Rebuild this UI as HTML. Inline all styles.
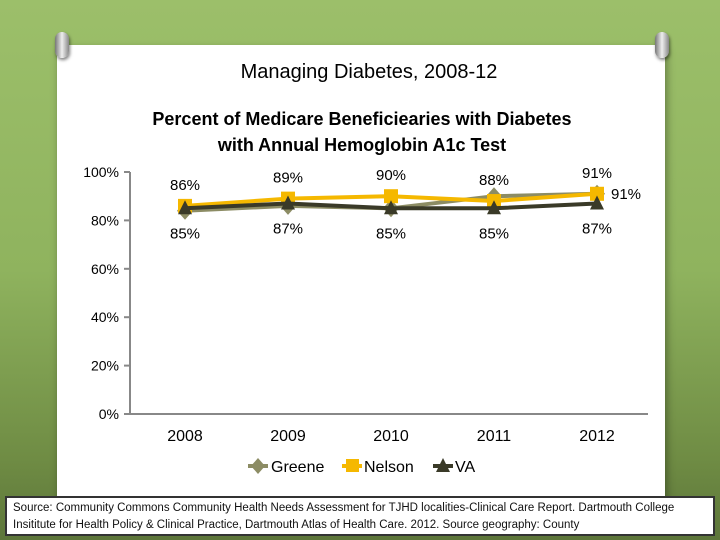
<!DOCTYPE html>
<html><head><meta charset="utf-8"><style>
html,body{margin:0;padding:0}
body{width:720px;height:540px;overflow:hidden;position:relative;font-family:"Liberation Sans",sans-serif;
background:linear-gradient(180deg,#9cbf6a 0%,#8fb35e 50%,#6f8c44 85%,#5d763a 100%)}
#paper{position:absolute;left:57px;top:45px;width:608px;height:452px;background:#fff;box-shadow:2px 4px 8px rgba(0,0,0,.35)}
.pin{position:absolute;width:14px;height:26px;border-radius:7px;background:linear-gradient(90deg,#777,#eee,#888);box-shadow:1px 2px 3px rgba(0,0,0,.5)}
#src{position:absolute;left:5px;top:496px;width:706px;height:38px;background:#fff;border:2px solid #333;font-size:11.5px;line-height:17px;padding:2px 0 0 6px;box-sizing:border-box;width:710px;height:40px;color:#111}
</style></head><body>
<div id="paper"></div>
<div class="pin" style="left:55px;top:32px"></div>
<div class="pin" style="left:655px;top:32px"></div>
<svg width="720" height="540" style="position:absolute;left:0;top:0" id="chart">
<text x="369" y="78" text-anchor="middle" font-size="20">Managing Diabetes, 2008-12</text>
<text x="362" y="125" text-anchor="middle" font-size="18" font-weight="bold">Percent of Medicare Beneficiearies with Diabetes</text>
<text x="362" y="151" text-anchor="middle" font-size="18" font-weight="bold">with Annual Hemoglobin A1c Test</text>
<g id="axes"></g><g id="series"></g><g id="labels"></g>
<g>
<g><line x1="248" y1="466" x2="268" y2="466" stroke="#8c8c64" stroke-width="4"/><path d="M258 458 L265 466 L258 474 L251 466Z" fill="#8c8c64"/><text x="271" y="472" font-size="16">Greene</text></g>
<g><line x1="342" y1="466" x2="362" y2="466" stroke="#f5b800" stroke-width="4"/><rect x="346" y="459" width="13" height="13" fill="#f5b800"/><text x="364" y="472" font-size="16">Nelson</text></g>
<g><line x1="433" y1="466" x2="453" y2="466" stroke="#3a3a28" stroke-width="4"/><path d="M443 458 L450 472 L436 472Z" fill="#3a3a28"/><text x="455" y="472" font-size="16">VA</text></g>
</g>
</svg>
<div id="src">Source: Community Commons Community Health Needs Assessment for TJHD localities-Clinical Care Report. Dartmouth College Insititute for Health Policy &amp; Clinical Practice, Dartmouth Atlas of Health Care. 2012. Source geography: County</div>
<script>
const categories=["2008","2009","2010","2011","2012"];
const greene=[84,86,85,90,91];
const nelson=[86,89,90,88,91];
const va=[85,87,85,85,87];
const yTicks=[0,20,40,60,80,100];
const NS="http://www.w3.org/2000/svg";
function x(i){return 185+i*103;}
function y(v){return 414-v*2.42;}
function mk(t,a,p){const e=document.createElementNS(NS,t);for(const k in a)e.setAttribute(k,a[k]);p.appendChild(e);return e;}
const axes=document.getElementById('axes');
const ax=mk('line',{x1:130,y1:172,x2:130,y2:414,stroke:'#888','stroke-width':2},axes);


const xa=mk('line',{x1:130,y1:414,x2:648,y2:414,stroke:'#888','stroke-width':2},axes);


yTicks.forEach(v=>{
 mk('line',{x1:124,y1:y(v),x2:130,y2:y(v),stroke:'#888','stroke-width':2},axes);
 const t=mk('text',{x:119,y:y(v)+5,'text-anchor':'end','font-size':14},axes);t.textContent=v+'%';
 
 
});
categories.forEach((c,i)=>{
 const t=mk('text',{x:x(i),y:441,'text-anchor':'middle','font-size':16},axes);t.textContent=c;
 
 
});
const sg=document.getElementById('series');
function series(vals,color,shape,name){
 const pl=mk('polyline',{points:vals.map((v,i)=>x(i)+','+y(v)).join(' '),fill:'none',stroke:color,'stroke-width':4},sg);
 
 
 vals.forEach((v,i)=>{
  const cx=x(i),cy=y(v);let m;
  if(shape==='d')m=mk('path',{d:`M${cx} ${cy-9} L${cx+8} ${cy} L${cx} ${cy+9} L${cx-8} ${cy}Z`,fill:color},sg);
  else if(shape==='s')m=mk('rect',{x:cx-7,y:cy-7,width:14,height:14,fill:color},sg);
  else m=mk('path',{d:`M${cx} ${cy-8} L${cx+7} ${cy+6} L${cx-7} ${cy+6}Z`,fill:color},sg);
  
  
 });
}
series(greene,'#8c8c64','d','greene');
series(nelson,'#f5b800','s','nelson');
series(va,'#3a3a28','t','va');
const lg=document.getElementById('labels');
nelson.forEach((v,i)=>{const t=mk('text',{x:x(i),y:y(v)-16,'text-anchor':'middle','font-size':15},lg);t.textContent=v+'%';
 
 });
va.forEach((v,i)=>{const t=mk('text',{x:x(i),y:y(v)+30,'text-anchor':'middle','font-size':15},lg);t.textContent=v+'%';
 
 });
const gl=mk('text',{x:x(4)+14,y:y(greene[4])+5,'font-size':15},lg);gl.textContent=greene[4]+'%';


</script>
</body></html>
